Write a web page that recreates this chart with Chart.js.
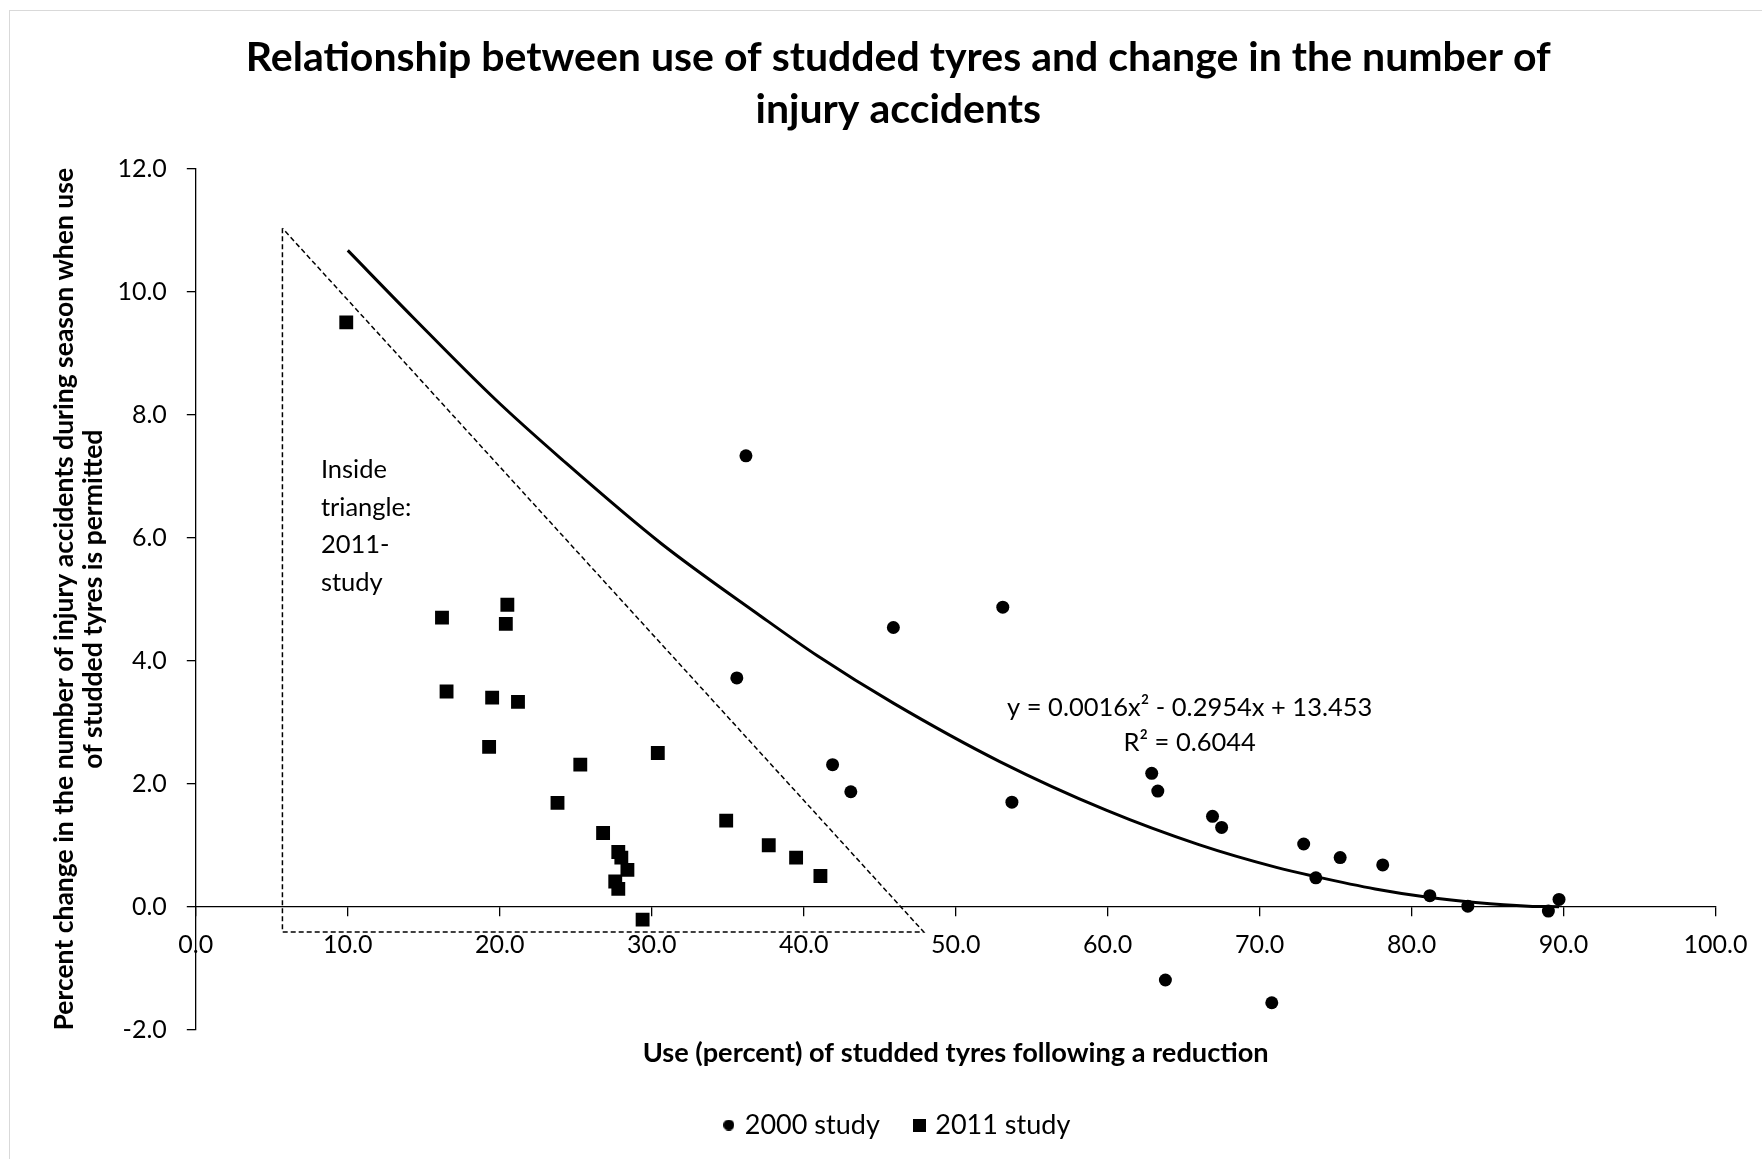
<!DOCTYPE html>
<html>
<head>
<meta charset="utf-8">
<script src="https://cdn.jsdelivr.net/npm/chart.js@4.4.1/dist/chart.umd.min.js"></script>
<style>
  html, body { margin: 0; padding: 0; background: #fff; overflow: hidden; }
  #frame { position: absolute; left: 9px; top: 10px; width: 1800px; height: 1200px;
           border-left: 1px solid #d9d9d9; border-top: 1px solid #d9d9d9; }
  #chart { position: absolute; left: 0; top: 0; }
</style>
</head>
<body>
<div id="frame"></div>
<canvas id="chart" width="1762" height="1159"></canvas>
<script>
const TITLE = ["Relationship between use of studded tyres and change in the number of", "injury accidents"]
const X_TITLE = "Use (percent) of studded tyres following a reduction"
const Y_TITLE = ["Percent change in the number of injury accidents during season when use", "of studded tyres is permitted"]
const LEGEND = ["2000 study", "2011 study"]

// 2000 study (circles)
const S2000_X = [36.2, 35.6, 45.9, 53.1, 41.9, 43.1, 53.7, 62.9, 63.3, 66.9, 67.5, 72.9, 73.7, 75.3, 78.1, 81.2, 83.7, 89.0, 89.7, 63.8, 70.8]
const S2000_Y = [7.33, 3.72, 4.54, 4.87, 2.31, 1.87, 1.70, 2.17, 1.88, 1.47, 1.29, 1.02, 0.47, 0.80, 0.68, 0.18, 0.01, -0.07, 0.12, -1.19, -1.56]

// 2011 study (squares)
const S2011_X = [9.9, 16.2, 20.5, 20.4, 16.5, 19.5, 21.2, 19.3, 30.4, 25.3, 23.8, 26.8, 34.9, 37.7, 39.5, 41.1, 27.8, 28.0, 28.4, 27.6, 27.8, 29.4]
const S2011_Y = [9.50, 4.70, 4.91, 4.60, 3.50, 3.40, 3.33, 2.60, 2.50, 2.31, 1.69, 1.20, 1.40, 1.00, 0.80, 0.50, 0.89, 0.80, 0.60, 0.41, 0.29, -0.21]

// polynomial trendline, points
const TREND_X = [10, 14.3, 19.7, 24.1, 30.6, 37.2, 40.9, 45.9, 52.9, 59.9, 66.0, 71.1, 73.7, 77.6, 81.2, 84.2, 87.7, 89.7]
const TREND_Y = [10.67, 9.58, 8.25, 7.27, 5.91, 4.72, 4.08, 3.31, 2.36, 1.57, 1.01, 0.64, 0.49, 0.29, 0.15, 0.07, 0.01, 0.0]

// dashed triangle
const TRI_X = [5.7, 5.7, 47.9, 5.7]
const TRI_Y = [11.03, -0.41, -0.41, 11.03]

const TRIANGLE_NOTE = ["Inside", "triangle:", "2011-", "study"]
const EQ_TEXT = ["y = 0.0016x\u00B2 - 0.2954x + 13.453", "R\u00B2 = 0.6044"]

function puntos(xs, ys) {
    return xs.map((v, i) => ({x: v, y: ys[i]}))
}

function marca(tipo, lado) {
    let c = document.createElement("canvas")
    c.width = lado
    c.height = lado
    let g = c.getContext("2d")
    g.fillStyle = "#000"
    if (tipo == "circle") {
        g.beginPath()
        g.arc(lado / 2, lado / 2, lado / 2, 0, Math.PI * 2)
        g.fill()
    } else {
        g.fillRect(0, 0, lado, lado)
    }
    return c
}

const notas = {
    id: "notas",
    afterDatasetsDraw(chart) {
        const {ctx, scales: {x, y}} = chart
        ctx.save()
        ctx.fillStyle = "#000"
        ctx.font = "25.5px Lato"
        ctx.textBaseline = "middle"
        ctx.textAlign = "left"
        let tx = x.getPixelForValue(8.23), ty = y.getPixelForValue(7.10)
        TRIANGLE_NOTE.forEach((l, i) => ctx.fillText(l, tx, ty + i * 37.5))
        ctx.textAlign = "center"
        let ex = x.getPixelForValue(65.4), ey = y.getPixelForValue(3.24)
        EQ_TEXT.forEach((l, i) => ctx.fillText(l, ex, ey + i * 35))
        ctx.restore()
    }
}

function dibujar() {
    Chart.defaults.font.family = "Lato"
    Chart.defaults.color = "#000"
    const legendMarks = [marca("circle", 11), marca("rect", 13)]

    const ctx = document.getElementById("chart").getContext("2d")
    new Chart(ctx, {
        type: "scatter",
        data: {
            datasets: [
                {
                    label: LEGEND[0],
                    data: puntos(S2000_X, S2000_Y),
                    pointStyle: "circle",
                    pointRadius: 6.5,
                    backgroundColor: "#000",
                    borderColor: "#000",
                    borderWidth: 0
                },
                {
                    label: LEGEND[1],
                    data: puntos(S2011_X, S2011_Y),
                    pointStyle: "rect",
                    pointRadius: 9.8,
                    backgroundColor: "#000",
                    borderColor: "#000",
                    borderWidth: 0
                },
                {
                    label: "trend",
                    data: puntos(TREND_X, TREND_Y),
                    showLine: true,
                    pointRadius: 0,
                    borderColor: "#000",
                    borderWidth: 3,
                    cubicInterpolationMode: "monotone"
                },
                {
                    label: "triangle",
                    data: puntos(TRI_X, TRI_Y),
                    showLine: true,
                    pointRadius: 0,
                    borderColor: "#000",
                    borderWidth: 1.5,
                    borderDash: [5, 3],
                    tension: 0
                }
            ]
        },
        options: {
            responsive: false,
            animation: false,
            layout: {
                padding: {top: 0, left: 75, right: 40.4, bottom: 10.5}
            },
            plugins: {
                title: {
                    display: true,
                    text: TITLE,
                    color: "#000",
                    font: {size: 41, weight: "bold", lineHeight: 52 / 41},
                    padding: {top: 32, bottom: 32.6}
                },
                legend: {
                    position: "bottom",
                    labels: {
                        font: {size: 27},
                        color: "#000",
                        usePointStyle: true,
                        boxWidth: 5,
                        boxHeight: 5,
                        padding: 37,
                        filter: item => item.datasetIndex < 2,
                        generateLabels: chart => {
                            let base = Chart.defaults.plugins.legend.labels.generateLabels(chart)
                            base.forEach(it => {
                                if (it.datasetIndex < 2) it.pointStyle = legendMarks[it.datasetIndex]
                            })
                            return base
                        }
                    }
                },
                tooltip: {enabled: false}
            },
            scales: {
                x: {
                    type: "linear",
                    position: {y: 0},
                    min: 0,
                    max: 100,
                    ticks: {
                        stepSize: 10,
                        font: {size: 25},
                        color: "#000",
                        padding: 14.5,
                        callback: v => v.toFixed(1)
                    },
                    grid: {display: true, drawOnChartArea: false, drawTicks: true, tickLength: 9, color: "#000", lineWidth: 1.3},
                    border: {display: true, color: "#000", width: 1.3}
                },
                x2: {
                    type: "linear",
                    position: "bottom",
                    min: 0,
                    max: 100,
                    ticks: {display: false},
                    grid: {display: false, drawTicks: false},
                    border: {display: false},
                    title: {
                        display: true,
                        text: X_TITLE,
                        color: "#000",
                        font: {size: 27.2, weight: "bold"},
                        padding: {top: 0, bottom: 5.2}
                    },
                    afterFit: s => { s.height = 44.7 }
                },
                y: {
                    type: "linear",
                    min: -2,
                    max: 12,
                    ticks: {
                        stepSize: 2,
                        font: {size: 25},
                        color: "#000",
                        padding: 20,
                        callback: v => v.toFixed(1)
                    },
                    grid: {display: true, drawOnChartArea: false, drawTicks: true, tickLength: 9, color: "#000", lineWidth: 1.3},
                    border: {display: true, color: "#000", width: 1.3},
                    title: {
                        display: true,
                        text: Y_TITLE,
                        color: "#000",
                        font: {size: 26.5, weight: "bold", lineHeight: 29 / 26.5},
                        padding: {top: -25.5, bottom: 0}
                    },
                    afterFit: s => { s.width = 120.8 }
                }
            }
        },
        plugins: [notas]
    })
}

if (document.fonts && document.fonts.load) {
    Promise.all([document.fonts.load("24px Lato"), document.fonts.load("bold 24px Lato")]).then(dibujar, dibujar)
} else {
    dibujar()
}
</script>
</body>
</html>
